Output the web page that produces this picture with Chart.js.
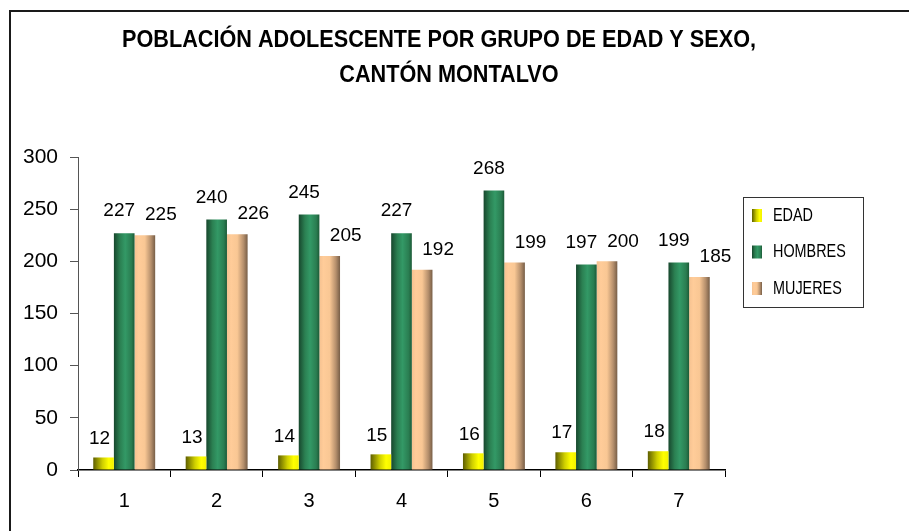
<!DOCTYPE html>
<html>
<head>
<meta charset="utf-8">
<script src="https://cdn.jsdelivr.net/npm/chart.js@4.4.0/dist/chart.umd.min.js"></script>
<style>
  body { margin: 0; background: #fff; }
  canvas { display: block; }
</style>
</head>
<body>
<canvas id="chart" width="909" height="531"></canvas>
<script>
// data
const grupos = ['1', '2', '3', '4', '5', '6', '7'];
const edad = [12, 13, 14, 15, 16, 17, 18];
const hombres = [227, 240, 245, 227, 268, 197, 199];
const mujeres = [225, 226, 205, 192, 199, 200, 185];
const yTicks = [0, 50, 100, 150, 200, 250, 300];

const titleLines = ['POBLACIÓN ADOLESCENTE POR GRUPO DE EDAD Y SEXO,', 'CANTÓN MONTALVO'];
const sans = '"Liberation Sans", Arial, sans-serif';

// cylinder-like shading for each series
const yellowStops = [[0, '#5e5e00'], [0.45, '#cfcf00'], [0.75, '#ffff00'], [1, '#f2f200']];
const greenStops = [[0, '#17472d'], [0.3, '#2b8052'], [0.55, '#339966'], [0.85, '#2a7d51'], [1, '#1c5a37']];
const tanStops = [[0, '#f5c291'], [0.2, '#ffcc99'], [0.5, '#f9c794'], [0.8, '#b58f6c'], [1, '#775e47']];

const catPct = 0.67;

function grad(ctx, x0, x1, stops) {
  const g = ctx.createLinearGradient(x0, 0, x1, 0);
  stops.forEach(s => g.addColorStop(s[0], s[1]));
  return g;
}

function barFill(stops) {
  return (c) => {
    const chart = c.chart;
    const xs = chart.scales.x;
    if (!xs || c.type !== 'data') return stops[2][1];
    const catW = xs.getPixelForValue(1) - xs.getPixelForValue(0);
    const bw = catW * catPct / 3;
    const cx = xs.getPixelForValue(c.dataIndex) + (c.datasetIndex - 1) * bw;
    if (!isFinite(cx) || !isFinite(bw) || bw <= 0) return stops[2][1];
    return grad(chart.ctx, cx - bw / 2, cx + bw / 2, stops);
  };
}

// no narrow font installed, so squeeze the text horizontally
function squeezed(ctx, text, x, y, sx) {
  ctx.save();
  ctx.translate(x, y);
  ctx.scale(sx, 1);
  ctx.fillText(text, 0, 0);
  ctx.restore();
}

const seriesStops = [yellowStops, greenStops, tanStops];
// label nudges per series (dx, dy from bar top)
const labelShift = [[-4, -19], [-5, -22], [16, -20]];

const decor = {
  id: 'decor',
  afterDraw(chart) {
    const ctx = chart.ctx;
    ctx.save();

    // frame (only top and left edges show)
    ctx.strokeStyle = '#1a1a1a';
    ctx.lineWidth = 2;
    ctx.beginPath();
    ctx.moveTo(909, 11);
    ctx.lineTo(10, 11);
    ctx.lineTo(10, 531);
    ctx.stroke();

    // title
    ctx.fillStyle = '#000';
    ctx.textAlign = 'center';
    ctx.textBaseline = 'alphabetic';
    ctx.font = 'bold 24px ' + sans;
    const sx = 634 / ctx.measureText(titleLines[0]).width;
    squeezed(ctx, titleLines[0], 439, 47, sx);
    squeezed(ctx, titleLines[1], 449, 82, sx);

    // value labels
    ctx.textBaseline = 'middle';
    ctx.font = '19px ' + sans;
    chart.data.datasets.forEach((ds, di) => {
      const meta = chart.getDatasetMeta(di);
      meta.data.forEach((bar, i) => {
        ctx.fillText(String(ds.data[i]), bar.x + labelShift[di][0], bar.y + labelShift[di][1]);
      });
    });

    // legend box
    const lx = 743, ly = 197, lw = 120, lh = 110;
    ctx.strokeStyle = '#333';
    ctx.lineWidth = 1;
    ctx.strokeRect(lx + 0.5, ly + 0.5, lw, lh);
    ctx.textAlign = 'left';
    ctx.font = '18px ' + sans;
    chart.data.datasets.forEach((ds, di) => {
      const cy = 215 + di * 36.5;
      ctx.fillStyle = grad(ctx, 752, 762, seriesStops[di]);
      ctx.fillRect(752, cy - 6, 10, 13);
      ctx.fillStyle = '#000';
      squeezed(ctx, ds.label, 773, cy + 1, 0.8);
    });

    ctx.restore();
  }
};

new Chart(document.getElementById('chart'), {
  type: 'bar',
  data: {
    labels: grupos,
    datasets: [
      { label: 'EDAD', data: edad, backgroundColor: barFill(yellowStops) },
      { label: 'HOMBRES', data: hombres, backgroundColor: barFill(greenStops) },
      { label: 'MUJERES', data: mujeres, backgroundColor: barFill(tanStops) }
    ]
  },
  options: {
    responsive: false,
    animation: false,
    layout: { padding: { left: 0, top: 157, right: 184, bottom: 21 } },
    datasets: { bar: { categoryPercentage: catPct, barPercentage: 1, borderWidth: 0 } },
    plugins: {
      legend: { display: false },
      title: { display: false },
      tooltip: { enabled: false }
    },
    scales: {
      x: {
        offset: true,
        grid: { display: true, drawOnChartArea: false, offset: true, tickLength: 7, color: '#000' },
        border: { color: '#000', width: 1.5 },
        ticks: { color: '#000', font: { family: sans, size: 20 }, padding: 12 },
        afterFit: s => { s.height = 40; }
      },
      y: {
        min: 0,
        max: 300,
        afterBuildTicks: s => { s.ticks = yTicks.map(v => ({ value: v })); },
        grid: { display: true, drawOnChartArea: false, tickLength: 8, color: '#555' },
        border: { color: '#555', width: 1 },
        ticks: { color: '#000', font: { family: sans, size: 21 }, padding: 12 },
        afterFit: s => { s.width = 78; }
      }
    }
  },
  plugins: [decor]
});
</script>
</body>
</html>
